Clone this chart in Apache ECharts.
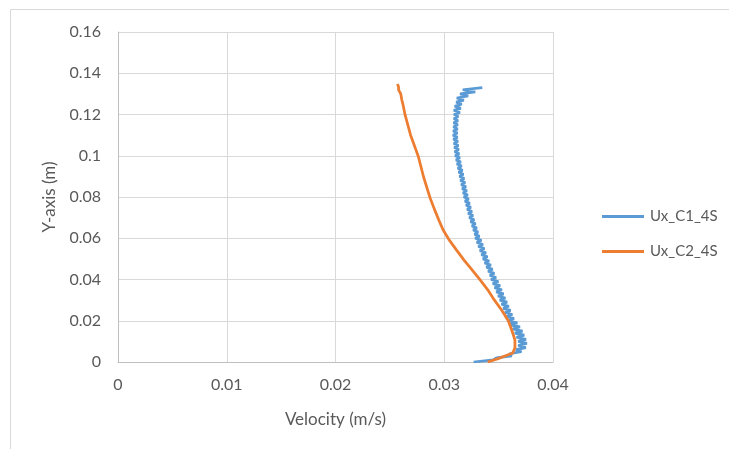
<!DOCTYPE html>
<html>
<head>
<meta charset="utf-8">
<script src="https://cdn.jsdelivr.net/npm/echarts@6/dist/echarts.min.js"></script>
<style>
  html, body { margin: 0; padding: 0; background: #fff; }
  #chart { width: 729px; height: 449px; }
</style>
</head>
<body>
<div id="chart"></div>
<script>
// Ux_C1_4S : velocity (m/s) against height (m)
const blueY = [
  0, 0.001, 0.002, 0.003, 0.004, 0.005, 0.006, 0.007, 0.008, 0.009,
  0.010, 0.011, 0.012, 0.013, 0.014, 0.015, 0.016, 0.017, 0.018, 0.019,
  0.020, 0.021, 0.022, 0.023, 0.024, 0.025, 0.026, 0.027, 0.028, 0.029,
  0.030, 0.031, 0.032, 0.033, 0.034, 0.035, 0.036, 0.037, 0.038, 0.039,
  0.040, 0.041, 0.042, 0.043, 0.044, 0.045, 0.046, 0.047, 0.048, 0.049,
  0.050, 0.051, 0.052, 0.053, 0.054, 0.055, 0.056, 0.057, 0.058, 0.059,
  0.060, 0.061, 0.062, 0.063, 0.064, 0.065, 0.066, 0.067, 0.068, 0.069,
  0.070, 0.071, 0.072, 0.073, 0.074, 0.075, 0.076, 0.077, 0.078, 0.079,
  0.080, 0.081, 0.082, 0.083, 0.084, 0.085, 0.086, 0.087, 0.088, 0.089,
  0.090, 0.091, 0.092, 0.093, 0.094, 0.095, 0.096, 0.097, 0.098, 0.099,
  0.100, 0.101, 0.102, 0.103, 0.104, 0.105, 0.106, 0.107, 0.108, 0.109,
  0.110, 0.111, 0.112, 0.113, 0.114, 0.115, 0.116, 0.117, 0.118, 0.119,
  0.120, 0.121, 0.122, 0.123, 0.124, 0.125, 0.126, 0.127, 0.128, 0.129,
  0.130, 0.131, 0.132, 0.133
];
const blueVel = [
  0.03270, 0.03450, 0.03480, 0.03620, 0.03600, 0.03710, 0.03660, 0.03750, 0.03680, 0.03760,
  0.03680, 0.03752, 0.03664, 0.03736, 0.03648, 0.03720, 0.03628, 0.03696, 0.03604, 0.03672,
  0.03580, 0.03642, 0.03574, 0.03626, 0.03558, 0.03610, 0.03542, 0.03594, 0.03526, 0.03578,
  0.03510, 0.03562, 0.03494, 0.03546, 0.03478, 0.03530, 0.03462, 0.03514, 0.03446, 0.03498,
  0.03430, 0.03477, 0.03419, 0.03461, 0.03403, 0.03445, 0.03387, 0.03429, 0.03371, 0.03413,
  0.03355, 0.03398, 0.03341, 0.03384, 0.03327, 0.03370, 0.03313, 0.03356, 0.03299, 0.03342,
  0.03285, 0.03324, 0.03278, 0.03312, 0.03266, 0.03300, 0.03254, 0.03288, 0.03242, 0.03276,
  0.03230, 0.03265, 0.03220, 0.03255, 0.03210, 0.03245, 0.03200, 0.03235, 0.03190, 0.03225,
  0.03180, 0.03216, 0.03172, 0.03208, 0.03164, 0.03200, 0.03156, 0.03192, 0.03148, 0.03184,
  0.03140, 0.03176, 0.03132, 0.03168, 0.03124, 0.03160, 0.03116, 0.03152, 0.03108, 0.03144,
  0.03100, 0.03138, 0.03096, 0.03134, 0.03092, 0.03130, 0.03088, 0.03126, 0.03084, 0.03122,
  0.03080, 0.03121, 0.03082, 0.03123, 0.03084, 0.03125, 0.03086, 0.03127, 0.03088, 0.03129,
  0.03090, 0.03144, 0.03088, 0.03152, 0.03096, 0.03160, 0.03110, 0.03180, 0.03115, 0.03220,
  0.03145, 0.03285, 0.03170, 0.03350
];

// Ux_C2_4S
const orangeY = [
  0, 0.0019, 0.0044, 0.0068, 0.0107, 0.0155, 0.0199, 0.0250, 0.0301, 0.0350,
  0.0398, 0.0450, 0.0495, 0.0545, 0.0596, 0.0640, 0.0688, 0.0740, 0.0795, 0.0897,
  0.0999, 0.1101, 0.1198, 0.1250, 0.1270, 0.1300, 0.1319, 0.1333, 0.1348
];
const orangeVel = [
  0.0340, 0.0351, 0.0363, 0.0365, 0.0365, 0.0362, 0.0359, 0.0353, 0.0346, 0.0340,
  0.0333, 0.0325, 0.0318, 0.0311, 0.0304, 0.0299, 0.0295, 0.0291, 0.0287, 0.0281,
  0.0276, 0.0269, 0.0264, 0.0262, 0.0261, 0.0260, 0.0258, 0.0258, 0.0257
];

const seriesNames = ['Ux_C1_4S', 'Ux_C2_4S'];
const xTicks = { min: 0, max: 0.04, interval: 0.01 };
const yTicks = { min: 0, max: 0.16, interval: 0.02 };

const textColor = '#595959';
const font = 'Lato, "Liberation Sans", sans-serif';

const chart = echarts.init(document.getElementById('chart'), null, { renderer: 'canvas' });
chart.setOption({
  animation: false,
  backgroundColor: '#ffffff',
  graphic: [{
    type: 'rect',
    shape: { x: 10.5, y: 9.5, width: 900, height: 600 },
    style: { fill: 'none', stroke: '#d9d9d9', lineWidth: 1 },
    silent: true
  }],
  grid: { left: 118, right: 176, top: 32, bottom: 87 },
  legend: {
    orient: 'vertical',
    left: 597,
    top: 204,
    itemWidth: 42,
    itemHeight: 14,
    itemGap: 20,
    data: seriesNames.map(n => ({ name: n, icon: 'path://M0,6L42,6L42,9L0,9Z' })),
    textStyle: { color: textColor, fontSize: 15, fontFamily: font, padding: [0, 0, 0, 1] }
  },
  xAxis: {
    type: 'value',
    min: xTicks.min,
    max: xTicks.max,
    interval: xTicks.interval,
    name: 'Velocity (m/s)',
    nameLocation: 'middle',
    nameGap: 49,
    nameTextStyle: { color: textColor, fontSize: 17, fontFamily: font },
    axisLine: { show: true, lineStyle: { color: '#bfbfbf', width: 1 } },
    axisTick: { show: false },
    axisLabel: { color: textColor, fontSize: 16, fontFamily: font, margin: 15 },
    splitLine: { show: true, lineStyle: { color: '#d9d9d9', width: 1 } }
  },
  yAxis: {
    type: 'value',
    min: yTicks.min,
    max: yTicks.max,
    interval: yTicks.interval,
    name: 'Y-axis (m)',
    nameLocation: 'middle',
    nameGap: 54,
    nameTextStyle: { color: textColor, fontSize: 17, fontFamily: font },
    axisLine: { show: true, lineStyle: { color: '#bfbfbf', width: 1 } },
    axisTick: { show: false },
    axisLabel: { color: textColor, fontSize: 16, fontFamily: font, margin: 17 },
    splitLine: { show: true, lineStyle: { color: '#d9d9d9', width: 1 } }
  },
  series: [
    {
      name: seriesNames[0],
      type: 'line',
      data: blueVel.map((v, i) => [v, blueY[i]]),
      symbol: 'none',
      lineStyle: { color: '#5b9bd5', width: 2.75 },
      itemStyle: { color: '#5b9bd5' }
    },
    {
      name: seriesNames[1],
      type: 'line',
      data: orangeVel.map((v, i) => [v, orangeY[i]]),
      symbol: 'none',
      lineStyle: { color: '#ed7d31', width: 2.75 },
      itemStyle: { color: '#ed7d31' }
    }
  ]
});
</script>
</body>
</html>
